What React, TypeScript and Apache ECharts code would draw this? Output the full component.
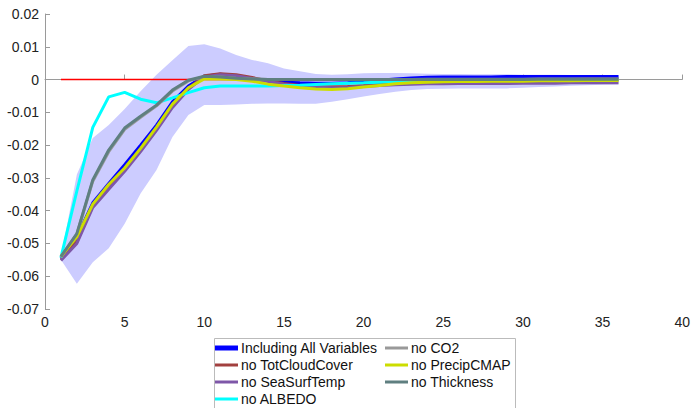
import React, { useEffect, useRef } from "react";
import * as echarts from "echarts";

const STEPS = Array.from({ length: 36 }, (_, i) => i + 1);

const ALL_VARS = [-0.0545, -0.048, -0.0376, -0.0317, -0.026, -0.02, -0.0139, -0.0068, -0.002, 0.001, 0.0016, 0.0012, 0.0002, -0.0004, -0.0008, -0.001, -0.0011, -0.0011, -0.001, -0.0006, -0.0002, 0.0002, 0.0005, 0.0007, 0.0008, 0.0008, 0.0008, 0.0008, 0.0009, 0.0009, 0.0009, 0.0009, 0.0009, 0.0009, 0.0009, 0.0009];
const NO_CLOUD = [-0.0548, -0.0495, -0.0385, -0.033, -0.0275, -0.0215, -0.015, -0.008, -0.0028, 0.0012, 0.0018, 0.0015, 0.0006, -0.0004, -0.0012, -0.0018, -0.0021, -0.0022, -0.0021, -0.0018, -0.0014, -0.001, -0.0007, -0.0005, -0.0004, -0.0003, -0.0003, -0.0002, -0.0002, -0.0001, -0.0001, 0, 0, 0.0001, 0.0001, 0.0001];
const NO_SST = [-0.0552, -0.05, -0.039, -0.0335, -0.028, -0.022, -0.0155, -0.0085, -0.003, 0.0008, 0.0015, 0.0012, 0.0003, -0.0006, -0.0014, -0.002, -0.0023, -0.0025, -0.0024, -0.0021, -0.0018, -0.0016, -0.0014, -0.0013, -0.0013, -0.0012, -0.0012, -0.0012, -0.0012, -0.0011, -0.0011, -0.0011, -0.001, -0.001, -0.001, -0.001];
const NO_ALBEDO = [-0.0543, -0.034, -0.0146, -0.0053, -0.0039, -0.006, -0.0071, -0.0056, -0.004, -0.0025, -0.002, -0.002, -0.002, -0.002, -0.0018, -0.0017, -0.0015, -0.0013, -0.0011, -0.001, -0.0008, -0.0006, -0.0005, -0.0004, -0.0003, -0.0003, -0.0002, -0.0002, -0.0001, -0.0001, -0.0001, 0, 0, 0, 0, 0];
const NO_CO2 = [-0.0542, -0.0472, -0.031, -0.022, -0.0152, -0.0115, -0.008, -0.0035, -0.0004, 0.0009, 0.0008, 0.0004, 0.0002, 0, 0, 0, 0, 0, 0, 0, 0, 0, 0, 0.0001, 0.0001, 0.0001, 0.0001, 0.0001, 0.0001, 0.0001, 0.0002, 0.0002, 0.0002, 0.0002, 0.0002, 0.0002];
const NO_PRECIP = [-0.054, -0.048, -0.038, -0.032, -0.027, -0.021, -0.0145, -0.0075, -0.0025, 0.0002, 0.0002, 0, -0.0005, -0.0014, -0.002, -0.0025, -0.0029, -0.003, -0.0028, -0.0023, -0.0018, -0.0013, -0.001, -0.0008, -0.0007, -0.0006, -0.0006, -0.0005, -0.0005, -0.0005, -0.0004, -0.0004, -0.0004, -0.0003, -0.0003, -0.0003];
const NO_THICK = [-0.054, -0.047, -0.0306, -0.0215, -0.0148, -0.0112, -0.0078, -0.0032, -0.0002, 0.001, 0.0008, 0.0004, 0.0002, 0, 0, 0, 0, 0, 0, 0, 0, 0, 0, 0, 0, 0, 0, 0, 0, 0, 0.0001, 0.0001, 0.0001, 0.0001, 0.0001, 0.0001];
const ZERO_LINE = STEPS.map(() => 0);

const BAND_UPPER = [-0.054, -0.029, -0.0178, -0.0139, -0.009, -0.0036, 0.0015, 0.0059, 0.0102, 0.0108, 0.0095, 0.0075, 0.006, 0.005, 0.0034, 0.0025, 0.0017, 0.0015, 0.0016, 0.0019, 0.002, 0.002, 0.0019, 0.0018, 0.0017, 0.0017, 0.0016, 0.0016, 0.0016, 0.0015, 0.0015, 0.0015, 0.0014, 0.0014, 0.0013, 0.0013];
const BAND_LOWER = [-0.055, -0.0623, -0.0557, -0.0515, -0.044, -0.0348, -0.0276, -0.0175, -0.0108, -0.0078, -0.0078, -0.0076, -0.0074, -0.0073, -0.0073, -0.0074, -0.0074, -0.0068, -0.006, -0.0052, -0.0044, -0.0037, -0.0032, -0.0029, -0.0028, -0.0027, -0.0027, -0.0027, -0.0027, -0.0025, -0.0023, -0.0021, -0.0019, -0.0017, -0.0016, -0.0015];

const X_MIN = 0, X_MAX = 40, X_STEP = 5;
const Y_MIN = -0.07, Y_MAX = 0.02, Y_STEP = 0.01;

const SERIES_DEF = [
  { name: "Including All Variables", data: ALL_VARS, color: "#0000FF", width: 3 },
  { name: "no TotCloudCover", data: NO_CLOUD, color: "#A2403F", width: 3 },
  { name: "no SeaSurfTemp", data: NO_SST, color: "#7E57A8", width: 3 },
  { name: "no ALBEDO", data: NO_ALBEDO, color: "#00FFFF", width: 3 },
  { name: "no CO2", data: NO_CO2, color: "#999999", width: 3 },
  { name: "no PrecipCMAP", data: NO_PRECIP, color: "#CCDD00", width: 3 },
  { name: "no Thickness", data: NO_THICK, color: "#5F7F80", width: 3 },
];

const FONT = "'Liberation Sans', Arial, Helvetica, sans-serif";

export default function App() {
  const ref = useRef<HTMLDivElement>(null);
  useEffect(() => {
    if (!ref.current) return;
    const chart = echarts.init(ref.current, undefined, { renderer: "svg" });
    const pairs = (arr: number[]) => STEPS.map((s, i) => [s, arr[i]]);
    const series: any[] = [
      {
        type: "custom", name: "band", silent: true, z: 1,
        data: STEPS.map((s, i) => [s, BAND_LOWER[i], BAND_UPPER[i]]),
        encode: { x: 0, y: [1, 2] },
        renderItem: (params: any, api: any) => {
          if (params.dataIndex !== 0) return null;
          const pts: number[][] = [];
          STEPS.forEach((s, i) => pts.push(api.coord([s, BAND_UPPER[i]])));
          for (let i = STEPS.length - 1; i >= 0; i--) pts.push(api.coord([STEPS[i], BAND_LOWER[i]]));
          return { type: "polygon", shape: { points: pts }, style: { fill: "#CCCCFF", stroke: "none" } };
        },
      },
      {
        type: "line", name: "zero", data: pairs(ZERO_LINE), symbol: "none",
        lineStyle: { color: "#FF0000", width: 1.5 }, z: 2, silent: true,
      },
      ...SERIES_DEF.map((d) => ({
        type: "line", name: d.name, data: pairs(d.data), symbol: "none",
        lineStyle: { color: d.color, width: d.width }, itemStyle: { color: d.color }, z: 3,
      })),
    ];
    const legendCommon = {
      orient: "vertical", itemWidth: 23, itemHeight: 14, itemGap: 3,
      textStyle: { fontFamily: FONT, fontSize: 14, color: "#111", padding: [0, 0, 0, -2] },
      padding: 0, selectedMode: false,
    };
    const thin = "path://M0,0h0M0,5.5h23v3h-23zM0,14h0";
    const thick = "path://M0,0h0M0,4.5h23v5h-23zM0,14h0";
    const legItem = (name: string) => {
      const d = SERIES_DEF.find((s) => s.name === name)!;
      return { name, icon: name === "Including All Variables" ? thick : thin, itemStyle: { color: d.color } };
    };
    chart.setOption({
      animation: false,
      backgroundColor: "#fff",
      grid: { left: 45, right: 7, top: 14, bottom: 99, containLabel: false },
      xAxis: {
        type: "value", min: X_MIN, max: X_MAX, interval: X_STEP,
        axisLine: { lineStyle: { color: "#9a9a9a", width: 1 } },
        axisTick: { inside: true, length: 5, lineStyle: { color: "#9a9a9a" } },
        axisLabel: { fontFamily: FONT, fontSize: 14, color: "#222", margin: 6 },
        splitLine: { show: false },
      },
      yAxis: {
        type: "value", min: Y_MIN, max: Y_MAX, interval: Y_STEP,
        axisLine: { show: true, lineStyle: { color: "#9a9a9a", width: 1 } },
        axisTick: { show: true, inside: true, length: 5, lineStyle: { color: "#9a9a9a" } },
        axisLabel: {
          fontFamily: FONT, fontSize: 14, color: "#222", margin: 6,
          formatter: (v: number) => String(Number(v.toFixed(2))),
        },
        splitLine: { show: false },
      },
      legend: [
        {
          ...legendCommon, left: 215, top: 341,
          data: ["Including All Variables", "no TotCloudCover", "no SeaSurfTemp", "no ALBEDO"].map(legItem),
        },
        {
          ...legendCommon, left: 385, top: 341,
          data: ["no CO2", "no PrecipCMAP", "no Thickness"].map(legItem),
        },
      ],
      graphic: [
        {
          type: "rect", left: 214, top: 338, silent: true, z: -1,
          shape: { width: 301, height: 80 },
          style: { fill: "#fff", stroke: "#bbbbbb", lineWidth: 1 },
        },
      ],
      series,
    });
    return () => chart.dispose();
  }, []);
  return <div ref={ref} style={{ width: 693, height: 408, position: "absolute", left: 0, top: 0 }} />;
}
